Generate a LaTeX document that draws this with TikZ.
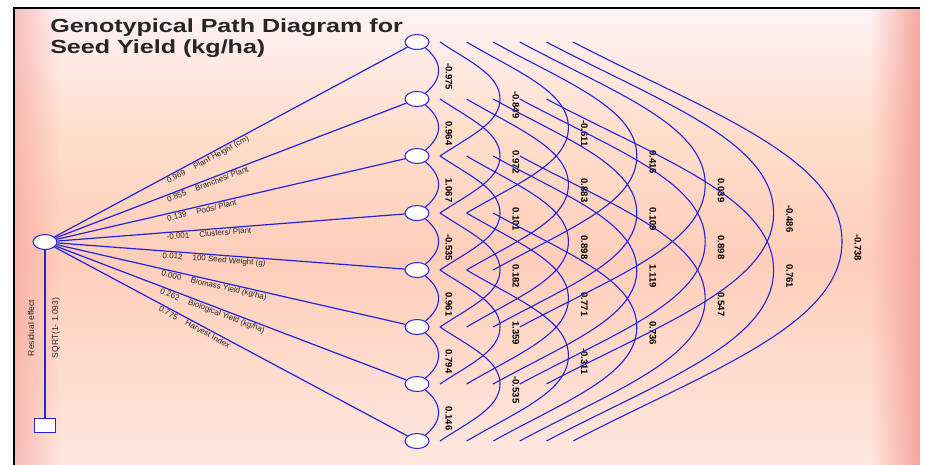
\documentclass[tikz,border=0pt]{standalone}
\usepackage{fontspec}
\setmainfont{Liberation Sans}
\usetikzlibrary{shapes.geometric,fadings}

\definecolor{pathblue}{RGB}{35,35,220}
\definecolor{paneltop}{RGB}{255,243,246}
\definecolor{panelmid}{RGB}{255,222,204}
\definecolor{panelpeach}{RGB}{255,206,186}
\definecolor{panelbot}{RGB}{255,232,224}
\definecolor{paneledge}{RGB}{244,158,150}

\tikzfading[name=fadeoutright, left color=transparent!0, right color=transparent!100]
\tikzfading[name=fadeoutleft, left color=transparent!100, right color=transparent!0]

\tikzset{
  var/.style={ellipse, draw=pathblue, fill=white, line width=1pt,
    minimum width=24pt, minimum height=15pt, inner sep=0pt},
  resid/.style={rectangle, draw=pathblue, fill=white, line width=1pt,
    minimum width=21pt, minimum height=14pt, inner sep=0pt},
  link/.style={pathblue, line width=1.2pt},
  corr/.style={pathblue, line width=1.1pt},
  coef/.style={font=\fontsize{9.5}{10}\selectfont\bfseries, text=black, rotate=-90, inner sep=0pt},
  trait/.style={font=\fontsize{8}{9}\selectfont, text=black!85, sloped, anchor=north west, inner sep=0.8pt},
  side/.style={font=\fontsize{8.5}{9}\selectfont, text=black!85, rotate=90, inner sep=0pt},
}

\begin{document}
\begin{tikzpicture}[x=1pt, y=-1pt]
  \useasboundingbox (0,0) rectangle (926,464);
  \fill[white] (0,0) rectangle (926,464);

  % panel background
  \shade[top color=paneltop, bottom color=panelmid] (14,8) rectangle (920,130);
  \shade[top color=panelmid, bottom color=panelpeach] (14,130) rectangle (920,260);
  \shade[top color=panelpeach, bottom color=panelbot] (14,260) rectangle (920,470);
  \fill[paneledge, path fading=fadeoutright, fill opacity=0.6] (14,8) rectangle (60,470);
  \fill[paneledge, path fading=fadeoutleft, fill opacity=0.9] (870,8) rectangle (920,470);
  \draw[black, line width=1.5pt] (14,470) -- (14,8) -- (920,8);

  % title
  \node[anchor=north west, align=left, inner sep=0pt, xscale=1.32,
    font=\fontsize{19}{21}\selectfont\bfseries, text=black!85] (title) at (50,19)
    {Genotypical Path Diagram for\\Seed Yield (kg/ha)};

  % variables
  \node[var] (r) at (45,242) {};
  \node[resid] (e) at (45,425) {};
  \foreach \i in {1,...,8}
    \node[var] (v\i) at (417,{42+57*(\i-1)}) {};

  % direct effects
  \draw[link] (r) -- (v1) node[trait, pos=0.31] {0.969\hspace{10pt}Plant Height (cm)};
  \draw[link] (r) -- (v2) node[trait, pos=0.31] {0.855\hspace{10pt}Branches/ Plant};
  \draw[link] (r) -- (v3) node[trait, pos=0.31] {0.139\hspace{10pt}Pods/ Plant};
  \draw[link] (r) -- (v4) node[trait, pos=0.31] {-0.001\hspace{10pt}Clusters/ Plant};
  \draw[link] (r) -- (v5) node[trait, pos=0.3] {0.012\hspace{10pt}100 Seed Weight (g)};
  \draw[link] (r) -- (v6) node[trait, pos=0.3] {0.000\hspace{10pt}Biomass Yield (kg/ha)};
  \draw[link] (r) -- (v7) node[trait, pos=0.3] {0.262\hspace{10pt}Biological Yield (kg/ha)};
  \draw[link] (r) -- (v8) node[trait, pos=0.3] {0.775\hspace{10pt}Harvest Index};

  % residual
  \draw[link] (r) -- (e);
  \node[side] (reslbl) at (31,328) {Residual effect};
  \node[side] (resval) at (56,328) {SQRT(1- 1.093)};

  % correlations, neighbours
  \foreach \c [count=\i] in {-0.975,0.964,1.067,-0.535,0.961,0.794,0.146} {
    \pgfmathtruncatemacro\j{\i+1}
    \draw[corr] (v\i.-35) to[out=-40, in=40, looseness=1.3] (v\j.35);
    \node[coef] (c1-\i) at (449,{70.5+57*(\i-1)+6}) {\c};
  }

  % correlations, wider pairs
  \foreach \k/\vals in {2/{-0.849,0.972,0.101,0.182,1.359,-0.535},
                        3/{-0.611,0.883,0.898,0.771,-0.311},
                        4/{0.416,0.109,1.119,0.736},
                        5/{0.039,0.898,0.547},
                        6/{-0.486,0.761},
                        7/{-0.738}} {
    \pgfmathsetmacro\xs{440+26.6*(\k-2)}
    \pgfmathsetmacro\xp{500+68.4*(\k-2)}
    \foreach \c [count=\i] in \vals {
      \pgfmathsetmacro\ya{42+57*(\i-1)}
      \pgfmathsetmacro\yb{\ya+57*\k}
      \pgfmathsetmacro\ym{(\ya+\yb)/2}
      \pgfmathsetmacro\h{57*\k/2}
      \draw[corr] (\xs,\ya) .. controls ({\xs+0.5*(\xp-\xs)},{\ya+0.35*\h}) and (\xp,{\ym-0.42*\h}) .. (\xp,\ym)
        .. controls (\xp,{\ym+0.42*\h}) and ({\xs+0.5*(\xp-\xs)},{\yb-0.35*\h}) .. (\xs,\yb);
      \node[coef] (c\k-\i) at ({\xp+16},{\ym+6}) {\c};
    }
  }
\end{tikzpicture}
\end{document}
